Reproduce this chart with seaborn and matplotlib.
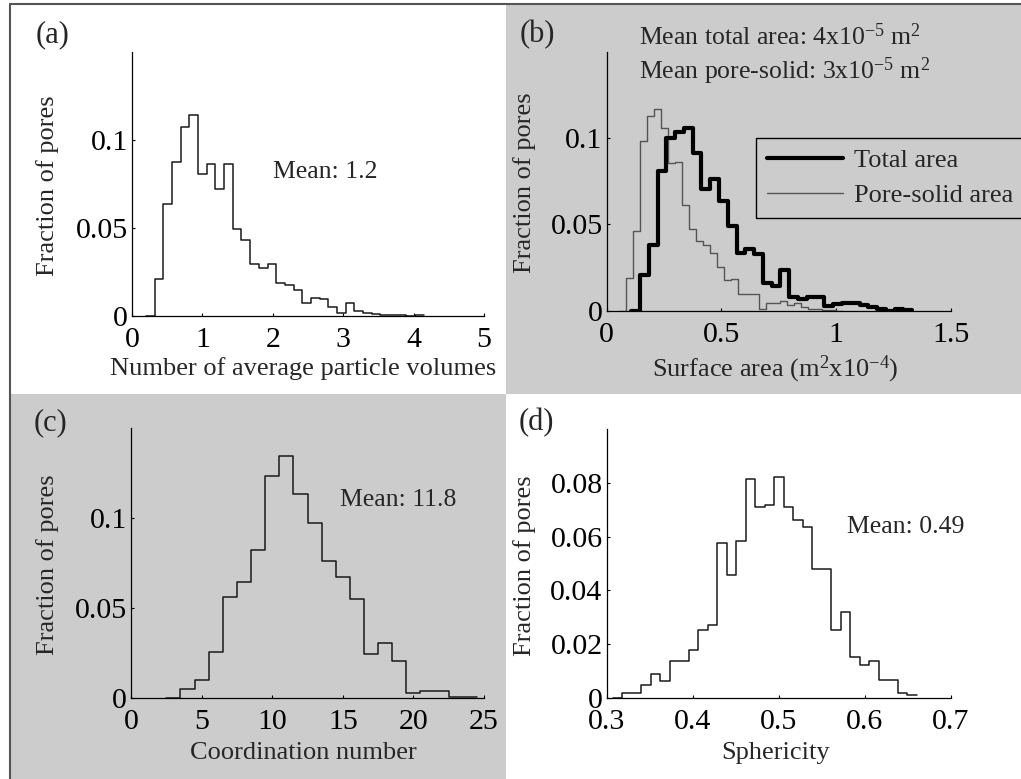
import numpy as np
import pandas as pd
import matplotlib
matplotlib.use("Agg")
import matplotlib.pyplot as plt
import seaborn as sns
from matplotlib.lines import Line2D
from matplotlib.patches import Rectangle

# ---------------- data ----------------
# (a) Number of average particle volumes
A_START, A_WIDTH = 0.322, 0.1233
A_HEIGHTS = [0.0211, 0.0638, 0.0873, 0.1073, 0.1140, 0.0806, 0.0862, 0.0721, 0.0862, 0.0497,
             0.0434, 0.0295, 0.0275, 0.0296, 0.0190, 0.0177, 0.0147, 0.0072, 0.0104, 0.0094,
             0.0052, 0.0019, 0.0072, 0.0028, 0.0019, 0.0009, 0.0008, 0.0008, 0.0007, 0.0000,
             0.0003]
A_XTICKS = [0, 1, 2, 3, 4, 5]
A_XTICKLABELS = ["0", "1", "2", "3", "4", "5"]

# (b) Surface area
B_TOTAL_START, B_TOTAL_WIDTH = 0.145, 0.0383
B_TOTAL = [0.0208, 0.0382, 0.0809, 0.1000, 0.1035, 0.1060, 0.0915, 0.0708, 0.0764, 0.0635,
           0.0489, 0.0335, 0.0360, 0.0328, 0.0163, 0.0141, 0.0238, 0.0077, 0.0066, 0.0077,
           0.0077, 0.0025, 0.0039, 0.0044, 0.0044, 0.0033, 0.0020, 0.0010, 0.0000, 0.0010,
           0.0005]
B_PS_START, B_PS_WIDTH = 0.083, 0.0305
B_PORESOLID = [0.0189, 0.0462, 0.0983, 0.1127, 0.1168, 0.1058, 0.0855, 0.0863, 0.0615, 0.0474,
               0.0405, 0.0380, 0.0335, 0.0255, 0.0177, 0.0183, 0.0094, 0.0094, 0.0094, 0.0010,
               0.0046, 0.0046, 0.0056, 0.0033, 0.0046, 0.0019, 0.0008, 0.0008, 0.0002, 0.0002,
               0.0001]
B_XTICKS = [0, 0.5, 1, 1.5]
B_XTICKLABELS = ["0", "0.5", "1", "1.5"]

# (c) Coordination number (integer bins)
C_START, C_WIDTH = 3.5, 1.0
C_HEIGHTS = [0.0050, 0.0101, 0.0258, 0.0563, 0.0642, 0.0821, 0.1234, 0.1345, 0.1135, 0.0972,
             0.0760, 0.0673, 0.0548, 0.0247, 0.0308, 0.0207, 0.0028, 0.0041, 0.0041, 0.0006,
             0.0006]
C_XTICKS = [0, 5, 10, 15, 20, 25]
C_XTICKLABELS = ["0", "5", "10", "15", "20", "25"]

# (d) Sphericity
D_START, D_WIDTH = 0.318, 0.01105
D_HEIGHTS = [0.0020, 0.0020, 0.0047, 0.0090, 0.0062, 0.0137, 0.0137, 0.0180, 0.0254, 0.0271,
             0.0578, 0.0457, 0.0582, 0.0814, 0.0709, 0.0718, 0.0821, 0.0710, 0.0661, 0.0634,
             0.0480, 0.0480, 0.0254, 0.0318, 0.0151, 0.0124, 0.0137, 0.0068, 0.0068, 0.0020,
             0.0012]
D_XTICKS = [0.3, 0.4, 0.5, 0.6, 0.7]
D_XTICKLABELS = ["0.3", "0.4", "0.5", "0.6", "0.7"]

Y15_TICKS = [0, 0.05, 0.1]
Y15_LABELS = ["0", "0.05", "0.1"]
Y10_TICKS = [0, 0.02, 0.04, 0.06, 0.08]
Y10_LABELS = ["0", "0.02", "0.04", "0.06", "0.08"]

# ---------------- style ----------------
sns.set_style("ticks")
plt.rcParams["font.family"] = ["Liberation Serif", "DejaVu Serif"]
plt.rcParams["mathtext.fontset"] = "custom"
plt.rcParams["mathtext.rm"] = "Liberation Serif"
plt.rcParams["mathtext.it"] = "Liberation Serif:italic"
plt.rcParams["mathtext.bf"] = "Liberation Serif:bold"

W, H = 1021, 779
fig = plt.figure(figsize=(W / 100, H / 100), dpi=100)
fig.patch.set_facecolor("white")

GRAY = "#cccccc"
TICK_FS = 21.5
LABEL_FS = 19
TEXT_FS = 18.5
LETTER_FS = 22


def fx(x):
    return x / W


def fy(y):
    return 1 - y / H


# panel backgrounds
fig.add_artist(Rectangle((fx(506), fy(394)), fx(1021) - fx(506), fy(5) - fy(394),
                         transform=fig.transFigure, facecolor=GRAY, edgecolor="none", zorder=0))
fig.add_artist(Rectangle((fx(11), fy(779)), fx(506) - fx(11), fy(394) - fy(779),
                         transform=fig.transFigure, facecolor=GRAY, edgecolor="none", zorder=0))
# outer frame lines (left and top)
fig.add_artist(Line2D([fx(10), fx(10)], [fy(4), fy(779)], transform=fig.transFigure,
                      color="#555555", lw=1.5, zorder=1))
fig.add_artist(Line2D([fx(10), fx(1021)], [fy(4), fy(4)], transform=fig.transFigure,
                      color="#555555", lw=1.5, zorder=1))


def make_ax(left, bottom, right, top):
    ax = fig.add_axes([fx(left), fy(bottom), fx(right) - fx(left), fy(top) - fy(bottom)])
    ax.patch.set_alpha(0)
    for s in ["top", "right"]:
        ax.spines[s].set_visible(False)
    for s in ["left", "bottom"]:
        ax.spines[s].set_color("black")
        ax.spines[s].set_linewidth(0.9)
        ax.spines[s].set_zorder(3)
    ax.tick_params(direction="in", length=2.5, width=0.8, colors="black",
                   labelsize=TICK_FS)
    ax.tick_params(axis="x", pad=8)
    ax.tick_params(axis="y", pad=3)
    return ax


def step_hist(ax, start, width, heights, **kw):
    # an empty bin in front so the outline rises from the baseline
    heights = [0.0] + [float(h) for h in heights]
    first = start - width
    edges = [first + width * i for i in range(len(heights) + 1)]
    centers = [0.5 * (edges[i] + edges[i + 1]) for i in range(len(heights))]
    df = pd.DataFrame({"value": centers, "frac": heights})
    sns.histplot(data=df, x="value", weights="frac", bins=edges, element="step", fill=False,
                 stat="count", ax=ax, **kw)


def finish(ax, xlim, xticks, xlabels, ylim, yticks, ylabels):
    ax.set_xlim(*xlim)
    ax.set_ylim(*ylim)
    ax.set_xticks(xticks)
    ax.set_xticklabels(xlabels)
    ax.set_yticks(yticks)
    ax.set_yticklabels(ylabels)
    ax.set_xlabel("")
    ax.set_ylabel("")


# ---- (a)
axa = make_ax(132, 316, 484, 52)
step_hist(axa, A_START, A_WIDTH, A_HEIGHTS, color="#1a1a1a", linewidth=1.1)
finish(axa, (0, 5), A_XTICKS, A_XTICKLABELS, (0, 0.15), Y15_TICKS, Y15_LABELS)

# ---- (b)
axb = make_ax(606.7, 310.7, 950.7, 52)
step_hist(axb, B_PS_START, B_PS_WIDTH, B_PORESOLID, color="#555555", linewidth=1.0)
step_hist(axb, B_TOTAL_START, B_TOTAL_WIDTH, B_TOTAL, color="black", linewidth=3.0)
finish(axb, (0, 1.5), B_XTICKS, B_XTICKLABELS, (0, 0.15), Y15_TICKS, Y15_LABELS)

# ---- (c)
axc = make_ax(131, 698, 484, 428)
step_hist(axc, C_START, C_WIDTH, C_HEIGHTS, color="#1a1a1a", linewidth=1.1)
finish(axc, (0, 25), C_XTICKS, C_XTICKLABELS, (0, 0.15), Y15_TICKS, Y15_LABELS)

# ---- (d)
axd = make_ax(606.7, 698, 950.7, 429)
step_hist(axd, D_START, D_WIDTH, D_HEIGHTS, color="#1a1a1a", linewidth=1.1)
finish(axd, (0.3, 0.7), D_XTICKS, D_XTICKLABELS, (0, 0.1), Y10_TICKS, Y10_LABELS)

# legend for (b)
handles = [Line2D([], [], color="black", lw=3.0), Line2D([], [], color="#555555", lw=1.0)]
leg = axb.legend(handles, ["Total area", "Pore-solid area"], loc="upper left",
                 bbox_to_anchor=(fx(755.7), fy(137.7)), bbox_transform=fig.transFigure,
                 borderaxespad=0, fontsize=LABEL_FS, frameon=True, fancybox=False,
                 handlelength=2.9, handletextpad=0.4, borderpad=0.42, labelspacing=0.44)
leg.get_frame().set_facecolor(GRAY)
leg.get_frame().set_edgecolor("black")
leg.get_frame().set_linewidth(1.0)
leg.get_frame().set_alpha(1)

# axis labels
def label(x, y, s, rot=0):
    fig.text(fx(x), fy(y), s, ha="center", va="center", rotation=rot, fontsize=LABEL_FS)

label(302.7, 369, "Number of average particle volumes")
label(48, 186, "Fraction of pores", 90)
label(775, 369, r"Surface area (m$^2$x10$^{-4}$)")
label(525, 183, "Fraction of pores", 90)
label(303.3, 753, "Coordination number")
label(48, 565, "Fraction of pores", 90)
label(775.5, 753, "Sphericity")
label(525, 566, "Fraction of pores", 90)

# panel letters
for (x, y, s) in [(53, 35, "(a)"), (537, 35, "(b)"), (50, 423, "(c)"), (536, 423, "(d)")]:
    fig.text(fx(x), fy(y), s, ha="center", va="center", fontsize=LETTER_FS)

# annotations
fig.text(fx(273), fy(172), "Mean: 1.2", ha="left", va="center", fontsize=TEXT_FS)
fig.text(fx(340), fy(500), "Mean: 11.8", ha="left", va="center", fontsize=TEXT_FS)
fig.text(fx(847), fy(527), "Mean: 0.49", ha="left", va="center", fontsize=TEXT_FS)
fig.text(fx(639.3), fy(36.7), r"Mean total area: 4x10$^{-5}$ m$^2$", ha="left", va="center",
         fontsize=TEXT_FS)
fig.text(fx(639.3), fy(71.7), r"Mean pore-solid: 3x10$^{-5}$ m$^2$", ha="left", va="center",
         fontsize=TEXT_FS)

fig.savefig("out.png", dpi=100)
